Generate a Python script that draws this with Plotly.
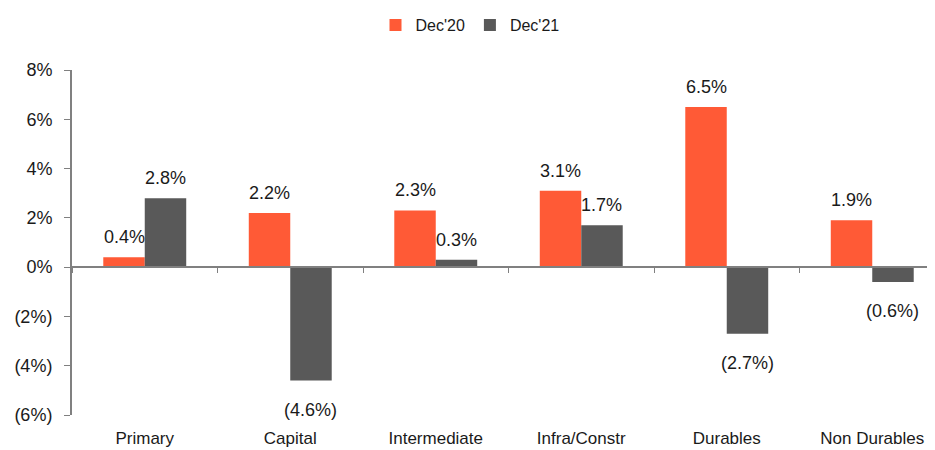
import plotly.graph_objects as go

categories = ["Primary", "Capital", "Intermediate", "Infra/Constr", "Durables", "Non Durables"]
dec20 = [0.4, 2.2, 2.3, 3.1, 6.5, 1.9]
dec21 = [2.8, -4.6, 0.3, 1.7, -2.7, -0.6]
series_names = ["Dec'20", "Dec'21"]
colors = ["#FF5A36", "#595959"]
tick_vals = [-6, -4, -2, 0, 2, 4, 6, 8]
tick_text = ["(6%)", "(4%)", "(2%)", "0%", "2%", "4%", "6%", "8%"]

def fmt(v):
    return f"({abs(v):.1f}%)" if v < 0 else f"{v:.1f}%"

font = "Liberation Sans, Arial, sans-serif"
FS = 18
L, W = 64, 935
plot_w = W - L
cat_px = 145.5
x_range = [-0.5, -0.5 + plot_w / cat_px]
bargap = 0.43
half = (1 - bargap) / 4  # centre offset of each bar within a group

fig = go.Figure()
for name, vals, col in zip(series_names, [dec20, dec21], colors):
    fig.add_trace(go.Bar(x=categories, y=vals, name=name, marker_color=col,
                         marker_line_width=0))

offsets = [-half, half]
for k, vals in enumerate([dec20, dec21]):
    for i, v in enumerate(vals):
        fig.add_annotation(x=i + offsets[k], y=v, xref="x", yref="y", text=fmt(v),
                           showarrow=False,
                           yanchor="bottom" if v >= 0 else "top",
                           yshift=8 if v >= 0 else -17,
                           font=dict(size=FS, color="#1a1a1a", family=font))

fig.update_layout(
    width=W, height=450,
    margin=dict(l=L, r=0, t=62, b=43, autoexpand=False),
    plot_bgcolor="white", paper_bgcolor="white",
    barmode="group", bargap=bargap, bargroupgap=0,
    font=dict(family=font, size=FS, color="#1a1a1a"),
    legend=dict(orientation="h", x=(462 - L) / plot_w, xanchor="center", y=1.0,
                yref="container", yanchor="top", font=dict(size=16),
                traceorder="normal"),
    xaxis=dict(showline=False, ticks="", tickfont=dict(size=17), ticklabelstandoff=11,
               automargin=False, range=x_range),
    xaxis2=dict(overlaying="x", anchor="free", position=6 / 14, side="bottom",
                showline=True, linecolor="#808080", linewidth=2,
                ticks="outside", ticklen=5, tickcolor="#808080", tickwidth=1,
                tickson="boundaries", showticklabels=False, type="category",
                range=x_range, automargin=False),
    yaxis=dict(range=[-6, 8], tickvals=tick_vals, ticktext=tick_text,
               showgrid=False, zeroline=False, showline=True, linecolor="#808080",
               linewidth=2, ticks="outside", ticklen=6, tickcolor="#808080",
               tickfont=dict(size=FS), ticklabelstandoff=8, automargin=False),
)
fig.add_trace(go.Scatter(x=categories, y=[0] * len(categories), xaxis="x2",
                         mode="lines", line=dict(width=0), showlegend=False,
                         hoverinfo="skip"))
fig.write_html("out.html")
